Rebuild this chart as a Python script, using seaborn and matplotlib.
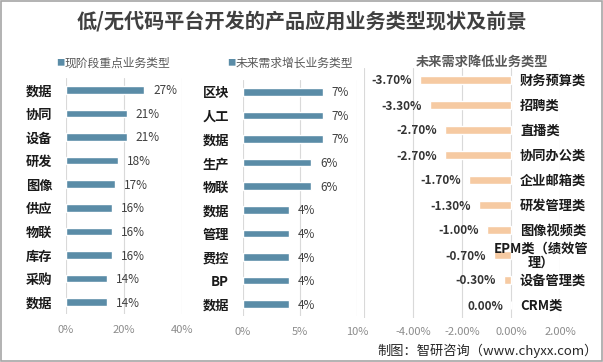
import matplotlib.pyplot as plt
import pandas as pd
import seaborn as sns
from matplotlib.patches import Rectangle

# Données
cur_names = ["数据", "协同", "设备", "研发", "图像", "供应", "物联", "库存", "采购", "数据"]
cur_vals = [27, 21, 21, 18, 17, 16, 16, 16, 14, 14]

grow_names = ["区块", "人工", "数据", "生产", "物联", "数据", "管理", "费控", "BP", "数据"]
grow_vals = [7, 7, 7, 6, 6, 4, 4, 4, 4, 4]

drop_names = ["财务预算类", "招聘类", "直播类", "协同办公类", "企业邮箱类",
              "研发管理类", "图像视频类", "EPM类（绩效管\n理）", "设备管理类", "CRM类"]
drop_vals = [-3.7, -3.3, -2.7, -2.7, -1.7, -1.3, -1.0, -0.7, -0.3, 0.0]

sns.set_theme(style="white")
plt.rcParams["font.family"] = ["Noto Sans CJK SC", "DejaVu Sans"]

BLUE = "#5a8ca7"
PEACH = "#f6caa2"
GRID = "#d9d9d9"
TICK = "#8c8c8c"

fig = plt.figure(figsize=(6.03, 3.62), dpi=100)
fig.patch.set_facecolor("white")
fig.patches.append(Rectangle((0.001, 0.002), 0.997, 0.996, transform=fig.transFigure,
                             fill=False, edgecolor="#a6a6a6", linewidth=1.2))

ax1 = fig.add_axes([66 / 603, 1 - 314 / 362, (182 - 66) / 603, (314 - 78) / 362])
ax2 = fig.add_axes([243 / 603, 1 - 316 / 362, (357 - 243) / 603, (316 - 80) / 362])
ax3 = fig.add_axes([364 / 603, 1 - 317.5 / 362, (560 - 364) / 603, 250 / 362])


def left_panel(ax, names, vals, xmax, ticks):
    df = pd.DataFrame({"key": [f"k{i}" for i in range(len(names))], "val": vals})
    sns.barplot(data=df, x="val", y="key", orient="h", color=BLUE, width=0.32,
                saturation=1, ax=ax)
    ax.set_xlim(0, xmax)
    ax.set_ylim(len(names) - 0.5, -0.5)
    ax.set_xticks(ticks)
    ax.set_xticklabels([f"{t}%" for t in ticks], color=TICK, fontsize=8)
    ax.set_yticks(range(len(names)))
    ax.set_yticklabels(names, fontsize=9.5, fontweight="bold", color="#1a1a1a")
    ax.tick_params(axis="y", length=0, pad=10)
    ax.tick_params(axis="x", length=0, pad=8)
    ax.set_xlabel("")
    ax.set_ylabel("")
    for s in ax.spines.values():
        s.set_visible(False)
    for t in ticks:
        ax.axvline(t, color=GRID, lw=0.8, zorder=0)
    for i, v in enumerate(vals):
        ax.annotate(f"{v}%", (v, i), xytext=(9, -1), textcoords="offset pixels",
                    ha="left", va="center", fontsize=8.5, color="#404040")


left_panel(ax1, cur_names, cur_vals, 40, [0, 20, 40])
left_panel(ax2, grow_names, grow_vals, 10, [0, 5, 10])

# Panneau de droite : baisse de la demande
df3 = pd.DataFrame({"key": [f"k{i}" for i in range(len(drop_names))], "val": drop_vals})
sns.barplot(data=df3, x="val", y="key", orient="h", color=PEACH, width=0.33,
            saturation=1, ax=ax3)
ax3.set_xlim(-6, 2)
ax3.set_ylim(len(drop_names) - 0.5, -0.5)
ax3.set_xticks([-4, -2, 0, 2])
ax3.set_xticklabels(["-4.00%", "-2.00%", "0.00%", "2.00%"], color=TICK, fontsize=8)
ax3.tick_params(axis="x", length=0, pad=7)
ax3.set_yticks([])
ax3.set_xlabel("")
ax3.set_ylabel("")
for s in ax3.spines.values():
    s.set_visible(False)
for t in [-6, -4, -2, 0, 2]:
    ax3.axvline(t, color=GRID, lw=0.8, zorder=0)
for i, (name, v) in enumerate(zip(drop_names, drop_vals)):
    ax3.annotate(f"{v:.2f}%", (v, i), xytext=(-8, -1), textcoords="offset pixels",
                 ha="right", va="center", fontsize=8.5, fontweight="bold", color="#333333")
    if "\n" in name:
        ax3.annotate(name, (0, i), xytext=(30, -1), textcoords="offset pixels",
                     ha="center", va="center", multialignment="center", fontsize=9.5,
                     fontweight="bold", color="#1a1a1a", linespacing=1.0)
    else:
        ax3.annotate(name, (0, i), xytext=(9, -1), textcoords="offset pixels",
                     ha="left", va="center", fontsize=9.5, fontweight="bold",
                     color="#1a1a1a")

# Titres, légendes et source
fig.text(0.5, 1 - 22 / 362, "低/无代码平台开发的产品应用业务类型现状及前景",
         ha="center", va="center", fontsize=14.5, fontweight="bold", color="#404040")
fig.text(60 / 603, 1 - 63 / 362, "■", ha="center", va="center", fontsize=6, color=BLUE)
fig.text(65 / 603, 1 - 63 / 362, "现阶段重点业务类型", ha="left", va="center",
         fontsize=8.5, color="#595959")
fig.text(231 / 603, 1 - 63 / 362, "■", ha="center", va="center", fontsize=6, color=BLUE)
fig.text(236 / 603, 1 - 63 / 362, "未来需求增长业务类型", ha="left", va="center",
         fontsize=8.5, color="#595959")
fig.text(482 / 603, 1 - 62 / 362, "未来需求降低业务类型", ha="center", va="center",
         fontsize=9.5, fontweight="bold", color="#595959")
fig.text(598 / 603, 1 - 351 / 362, "制图：智研咨询（www.chyxx.com）", ha="right",
         va="center", fontsize=9.5, color="#262626")

plt.savefig("out.png", dpi=100)
